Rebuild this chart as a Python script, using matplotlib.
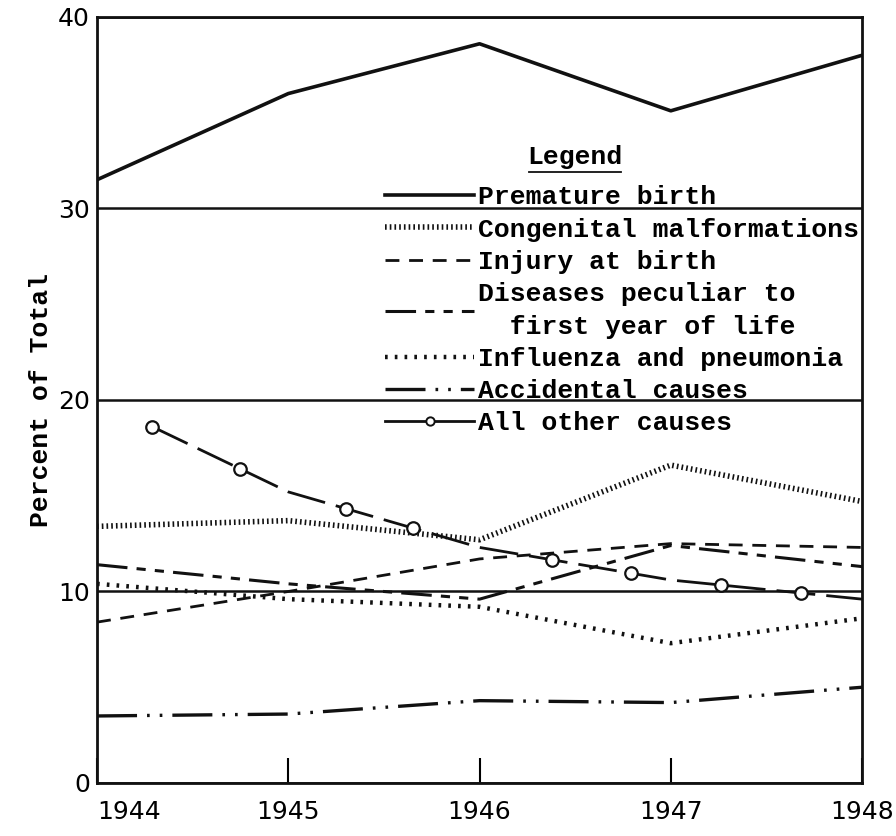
import matplotlib
matplotlib.use('Agg')
import matplotlib.pyplot as plt
from matplotlib.lines import Line2D
from matplotlib.legend_handler import HandlerLine2D
import numpy as np

# values (percent of total infant deaths)
years = [1944, 1945, 1946, 1947, 1948]
premature = [31.5, 36.0, 38.6, 35.1, 38.0]
congenital = [13.4, 13.7, 12.7, 16.6, 14.7]
injury = [8.4, 10.0, 11.7, 12.5, 12.3]
diseases = [11.4, 10.4, 9.6, 12.4, 11.3]
influenza = [10.4, 9.6, 9.2, 7.3, 8.6]
accidental = [3.5, 3.6, 4.3, 4.2, 5.0]
# "all other causes" line only starts a bit after 1944 on the original
other_years = [1944.29, 1945, 1946, 1947, 1948]
other = [18.6, 15.2, 12.3, 10.6, 9.6]
other_circles = [1944.29, 1944.75, 1945.30, 1945.65, 1946.38, 1946.79, 1947.26, 1947.68]

labels = ["Premature birth", "Congenital malformations", "Injury at birth",
          "Diseases peculiar to\n  first year of life", "Influenza and pneumonia",
          "Accidental causes", "All other causes"]

typewriter = {'family': 'Liberation Mono', 'size': 19, 'weight': 'bold'}
ink = '#111111'


class EndMarker(HandlerLine2D):
    # put the little circle at the right end of the legend sample
    def get_xdata(self, legend, xdescent, ydescent, width, height, fontsize):
        xdata, _ = super().get_xdata(legend, xdescent, ydescent, width, height, fontsize)
        return xdata, np.array([width - xdescent - 0.15 * fontsize])


fig = plt.figure(figsize=(8.96, 8.36), dpi=100)
ax = fig.add_axes([0.1083, 0.0634, 0.8538, 0.9163])

l1, = ax.plot(years, premature, color=ink, lw=2.6)
l2, = ax.plot(years, congenital, color=ink, lw=4, dashes=(0.3, 0.55))
l3, = ax.plot(years, injury, color=ink, lw=2.0, dashes=(5, 3.5))
l4, = ax.plot(years, diseases, color=ink, lw=2.2, dashes=(10, 3, 3, 3, 3, 3))
l5, = ax.plot(years, influenza, color=ink, lw=3.2, dashes=(0.6, 1.6))
l6, = ax.plot(years, accidental, color=ink, lw=2.4, dashes=(12, 3, 0.8, 3, 0.8, 3))
ax.plot(other_years, other, color=ink, lw=2.0, dashes=(14, 4))
ax.plot(other_circles, np.interp(other_circles, other_years, other), ls='none',
        marker='o', ms=9, mfc='white', mec=ink, mew=1.6)

l7 = Line2D([], [], color=ink, lw=2.0, marker='o', ms=6, mfc='white', mec=ink, mew=1.4)

ax.set_xlim(1944, 1948)
ax.set_ylim(0, 40)
ax.set_xticks(years)
ax.set_xticklabels([str(y) for y in years], fontsize=18)
ax.set_yticks([0, 10, 20, 30, 40])
ax.set_yticklabels(['0', '10', '20', '30', '40'], fontsize=18)
ax.get_xticklabels()[0].set_ha('left')
ax.tick_params(axis='y', length=0, pad=5)
ax.tick_params(axis='x', direction='in', length=18, width=1.5, pad=12)
ax.grid(axis='y', color=ink, lw=1.8)
ax.grid(axis='x', visible=False)
for s in ax.spines.values():
    s.set_linewidth(2)
    s.set_color(ink)

ax.set_ylabel('Percent of Total', fontdict=typewriter, labelpad=4)

leg = ax.legend([l1, l2, l3, l4, l5, l6, l7], labels, loc='upper left',
                bbox_to_anchor=(0.376, 0.78), frameon=False, prop=typewriter,
                handlelength=3.4, handletextpad=0.12, labelspacing=0.31,
                borderpad=0, borderaxespad=0, handler_map={l7: EndMarker()})
leg.get_texts()[3].set_linespacing(1.45)

ax.text(0.625, 0.802, 'Legend', transform=ax.transAxes, ha='center', va='bottom',
        fontdict=typewriter)
ax.plot([0.565, 0.685], [0.797, 0.797], transform=ax.transAxes, color=ink,
        lw=1.3, clip_on=False)

fig.savefig('out.png', dpi=100, facecolor='white')
